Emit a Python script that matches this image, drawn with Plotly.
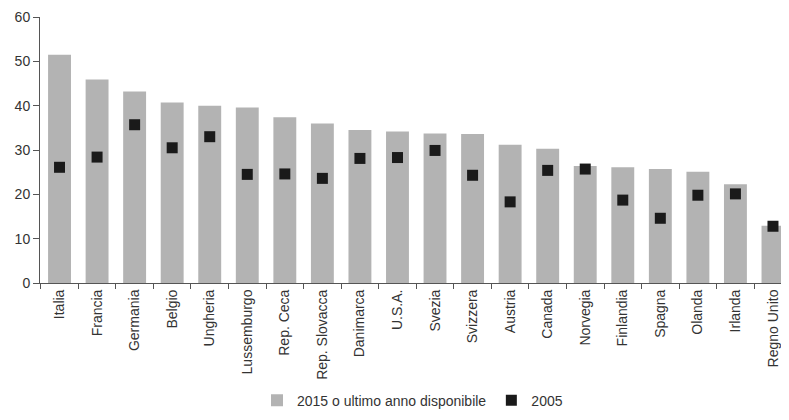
import plotly.graph_objects as go

categories = ["Italia", "Francia", "Germania", "Belgio", "Ungheria", "Lussemburgo",
              "Rep. Ceca", "Rep. Slovacca", "Danimarca", "U.S.A.", "Svezia", "Svizzera",
              "Austria", "Canada", "Norvegia", "Finlandia", "Spagna", "Olanda", "Irlanda",
              "Regno Unito"]
values_2015 = [51.5, 45.9, 43.2, 40.7, 40.0, 39.6, 37.4, 36.0, 34.5, 34.2,
               33.7, 33.6, 31.2, 30.3, 26.4, 26.1, 25.7, 25.1, 22.3, 12.9]
values_2005 = [26.1, 28.4, 35.7, 30.5, 33.0, 24.5, 24.6, 23.6, 28.1, 28.3,
               29.9, 24.3, 18.3, 25.4, 25.7, 18.7, 14.6, 19.8, 20.1, 12.8]
y_ticks = [0, 10, 20, 30, 40, 50, 60]

FONT = "Liberation Sans Narrow, Arial Narrow, Liberation Sans, Arial, sans-serif"

fig = go.Figure()
fig.add_trace(go.Bar(
    x=categories, y=values_2015, name="2015 o ultimo anno disponibile",
    marker=dict(color="#b3b3b3", line=dict(width=0)), width=0.61,
))
fig.add_trace(go.Scatter(
    x=categories, y=values_2005, name="2005", mode="markers",
    marker=dict(symbol="square", size=11, color="#1a1a1a"),
))

fig.update_layout(
    width=781, height=412,
    margin=dict(l=32, r=4, t=9, b=134),
    paper_bgcolor="white", plot_bgcolor="white",
    font=dict(family=FONT, color="#333333", size=14),
    showlegend=True,
    legend=dict(orientation="h", x=0.5, xanchor="center", y=-0.442, yanchor="middle",
                font=dict(size=14, color="#333333"), itemwidth=30,
                traceorder="normal"),
    bargap=0.39,
)
fig.update_xaxes(
    range=[-0.52, 19.32], showline=True, linecolor="#555555", linewidth=1,
    ticks="outside", tickson="boundaries", ticklen=5, tickcolor="#555555",
    tickangle=-90, tickfont=dict(size=14, color="#333333"), showgrid=False,
    automargin=False, ticklabeloverflow="allow",
)
fig.update_yaxes(
    range=[0, 60], tickvals=y_ticks, showline=True, linecolor="#555555", linewidth=1,
    ticks="outside", ticklen=6, tickcolor="#555555", showgrid=False, zeroline=False,
    tickfont=dict(size=14, color="#333333"), automargin=False,
    ticklabeloverflow="allow",
)

fig.write_html("out.html")
